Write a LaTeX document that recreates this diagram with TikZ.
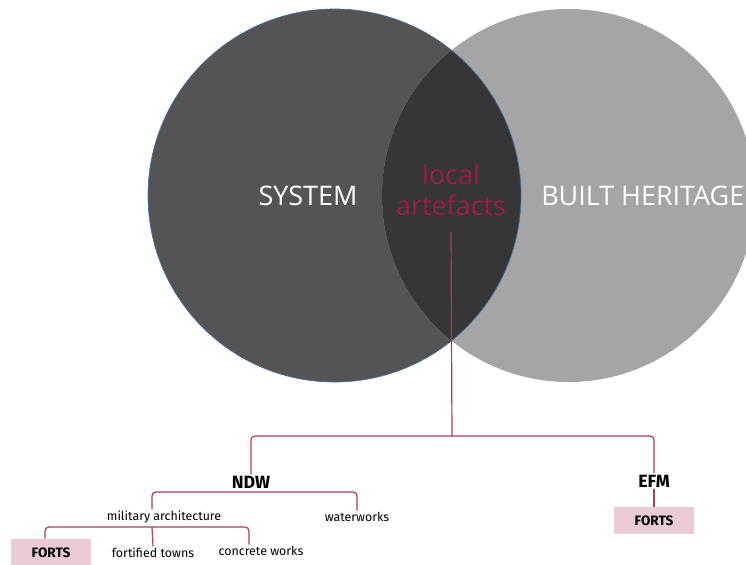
\documentclass[tikz,border=0pt]{standalone}
\usepackage{fontspec}
\setmainfont{Fira Sans}
\newfontfamily\venfont{Open Sans}
\definecolor{sysgray}{HTML}{545454}
\definecolor{herigray}{HTML}{A5A5A5}
\definecolor{lensgray}{HTML}{363636}
\definecolor{rimblue}{HTML}{41719C}
\definecolor{artred}{HTML}{9B1B4B}
\definecolor{linkred}{HTML}{B03A62}
\definecolor{fortpink}{HTML}{EACBD6}

\tikzset{
  biglabel/.style={font=\venfont\fontsize{20.2}{22.5}\selectfont, align=center, inner sep=0pt},
  head/.style={font=\fontsize{13.3}{15}\selectfont\bfseries, inner sep=1pt},
  leaf/.style={font=\fontsize{9.3}{11}\selectfont, inner sep=1pt},
  fortbox/.style={fill=fortpink, minimum width=60pt, minimum height=20.25pt,
    inner sep=0pt, font=\fontsize{10.2}{11}\selectfont\bfseries},
  link/.style={linkred, line width=0.9pt, rounded corners=3pt},
}

\begin{document}
\begin{tikzpicture}[x=0.75pt,y=-0.75pt]
  \clip (0,0) rectangle (746,564);
  \fill[white] (0,0) rectangle (746,564);

  % venn
  \fill[sysgray] (334.5,195.5) circle[radius=186.5];
  \fill[herigray] (568.5,195.5) circle[radius=186.5];
  \begin{scope}
    \clip (334.5,195.5) circle[radius=186.5];
    \fill[lensgray] (568.5,195.5) circle[radius=186.5];
  \end{scope}
  \draw[rimblue,line width=0.5pt] (334.5,195.5) circle[radius=186.5];

  \node[biglabel,white] (sys) at (308,196) {SYSTEM};
  \node[biglabel,white,anchor=west] (heri) at (541,196) {BUILT HERITAGE};
  \node[biglabel,text=artred] (art) at (451,190) {local\\[0.5pt]artefacts};

  % tree
  \node[head] (ndw) at (251,482) {NDW};
  \node[head] (efm) at (654,481) {EFM};
  \node[fortbox] (fortr) at (654,520.5) {FORTS};
  \node[leaf] (milarch) at (164,517) {military architecture};
  \node[leaf] (waterw) at (357,517) {waterworks};
  \node[fortbox] (fortl) at (51,552.5) {FORTS};
  \node[leaf] (fortt) at (153,553) {fortified towns};
  \node[leaf] (concr) at (261,551) {concrete works};

  \coordinate (bar1) at (452,436);
  \coordinate (bar3) at (254,492);
  \coordinate (bar2) at (152,527);

  \draw[link] ([yshift=-12pt]art.south) -- (bar1);
  \draw[link] (ndw.north) |- (bar1) -| (efm.north);
  \draw[link] (efm.south) -- (fortr.north);
  \draw[link] ([xshift=-9pt]milarch.north) |- (bar3) -| (waterw.north);
  \draw[link] ([xshift=-4.5pt]fortl.north) |- (bar2) -| ([xshift=-9pt]concr.north);
  \draw[link] (bar2) -- (fortt.north);
\end{tikzpicture}
\end{document}
